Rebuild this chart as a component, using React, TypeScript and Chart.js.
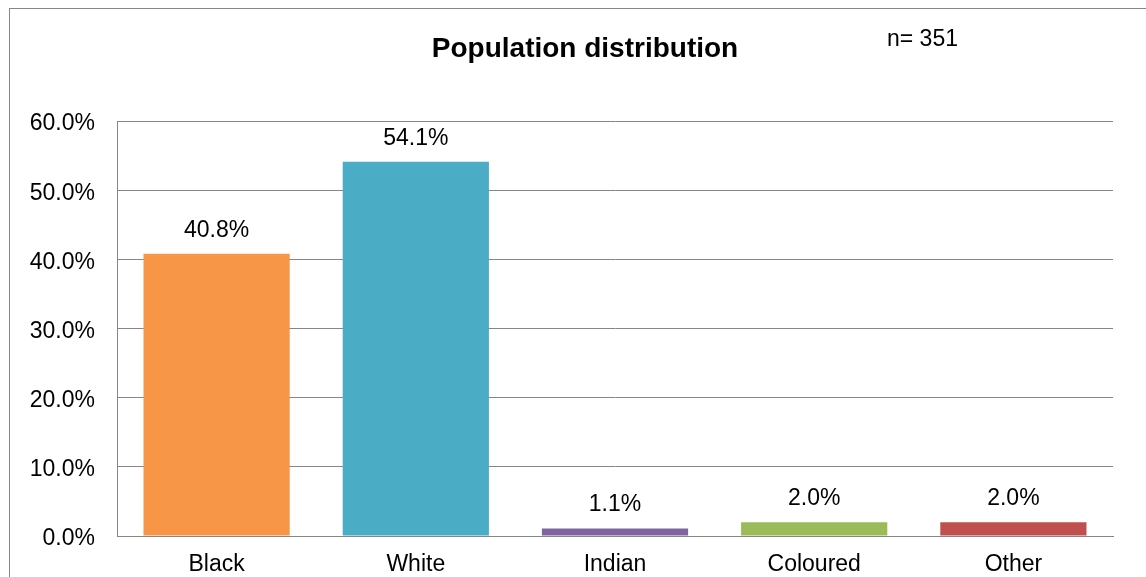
import React, { useEffect, useRef } from "react";
import { Chart, registerables } from "chart.js";

Chart.register(...registerables);

const categories = ["Black", "White", "Indian", "Coloured", "Other"];
const percentages = [40.8, 54.1, 1.1, 2.0, 2.0];
const barColors = ["#F79646", "#4BACC6", "#8064A2", "#9BBB59", "#C0504D"];
const chartTitle = "Population distribution";
const sampleNote = "n= 351";

const FONT = "'Liberation Sans', Arial, sans-serif";
const GRAY = "#868686";

const decorPlugin = {
  id: "decor",
  beforeDraw(chart: any) {
    const ctx = chart.ctx;
    ctx.save();
    ctx.fillStyle = "#ffffff";
    ctx.fillRect(0, 0, chart.width, chart.height);
    ctx.strokeStyle = GRAY;
    ctx.lineWidth = 1;
    ctx.strokeRect(9.5, 8.5, chart.width + 20, chart.height + 20);
    ctx.fillStyle = "#000";
    ctx.font = `bold 28px ${FONT}`;
    ctx.textAlign = "center";
    ctx.textBaseline = "alphabetic";
    ctx.fillText(chartTitle, 585, 57);
    ctx.font = `23px ${FONT}`;
    ctx.textAlign = "left";
    ctx.fillText(sampleNote, 887, 46);
    ctx.restore();
  },
  afterDatasetsDraw(chart: any) {
    const ctx = chart.ctx;
    const meta = chart.getDatasetMeta(0);
    ctx.save();
    ctx.fillStyle = "#000";
    ctx.font = `23px ${FONT}`;
    ctx.textAlign = "center";
    ctx.textBaseline = "alphabetic";
    meta.data.forEach((bar: any, i: number) => {
      ctx.fillText(percentages[i].toFixed(1) + "%", bar.x, bar.y - 17);
    });
    ctx.restore();
  },
};

export default function App() {
  const canvasRef = useRef<HTMLCanvasElement | null>(null);

  useEffect(() => {
    if (!canvasRef.current) return;
    const chart = new Chart(canvasRef.current, {
      type: "bar",
      data: {
        labels: categories,
        datasets: [
          {
            data: percentages,
            backgroundColor: barColors,
            borderWidth: 0,
            categoryPercentage: 1,
            barPercentage: 0.734,
          },
        ],
      },
      options: {
        responsive: false,
        animation: false,
        layout: { padding: { left: 0, right: 33, top: 121, bottom: 0 } },
        plugins: {
          legend: { display: false },
          title: { display: false },
          tooltip: { enabled: false },
        },
        scales: {
          x: {
            grid: { display: false, drawTicks: false },
            border: { display: true, color: GRAY, width: 1 },
            ticks: {
              color: "#000",
              font: { family: FONT, size: 23 },
              padding: 15,
              maxRotation: 0,
            },
            afterFit(scale: any) {
              scale.height = 41;
            },
          },
          y: {
            min: 0,
            max: 60,
            grid: { color: GRAY, lineWidth: 1, drawTicks: false },
            border: { display: true, color: GRAY, width: 1 },
            ticks: {
              stepSize: 10,
              color: "#000",
              font: { family: FONT, size: 23 },
              padding: 22,
              labelOffset: 3,
              callback: (v: any) => Number(v).toFixed(1) + "%",
            },
            afterFit(scale: any) {
              scale.width = 117;
            },
          },
        },
      },
      plugins: [decorPlugin],
    });
    return () => chart.destroy();
  }, []);

  return (
    <div style={{ position: "fixed", left: 0, top: 0, width: 1146, height: 577, background: "#fff" }}>
      <canvas ref={canvasRef} width={1146} height={577} style={{ display: "block" }} />
    </div>
  );
}
